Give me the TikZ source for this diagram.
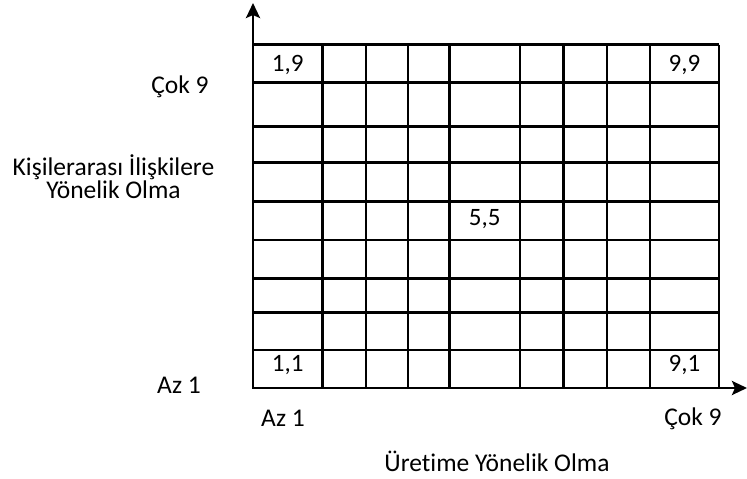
\documentclass[tikz,border=0pt]{standalone}
\usepackage{fontspec}
\setmainfont{Carlito}[Ligatures=NoCommon]
\usetikzlibrary{arrows.meta}
\tikzset{
  gridline/.style={line width=2.8pt},
  axes/.style={line width=2.8pt,line join=miter,
    {Stealth[length=15pt,width=14pt,inset=3pt]}-{Stealth[length=15pt,width=14pt,inset=3pt]}},
  celltext/.style={font=\fontsize{25}{27}\selectfont,inner sep=0pt,anchor=base},
  axistext/.style={font=\fontsize{25.5}{18.4}\selectfont,inner sep=0pt,anchor=base,align=center},
}

\begin{document}
\begin{tikzpicture}[x=1pt,y=-1pt]
\useasboundingbox (0,0) rectangle (747,479);

% corner of the axes and the two arrow ends
\coordinate (O) at (253,388);
\coordinate (T) at (253,3);
\coordinate (R) at (747,388);

% Draw the grid lines
\foreach \x in {322.5,366,408,449.5,520,563.5,607,650,719}
  \draw[gridline] (\x,44.5) -- (\x,388);
\foreach \y in {44.5,82.3,126.5,162.7,201.7,240,278.3,312.7,350}
  \draw[gridline] (253,\y) -- (719,\y);

% Draw the axes
\draw[axes] (T) -- (O) -- (R);

% cell labels
\node[celltext] (c19) at (287.7,71.5) {1,9};
\node[celltext] (c99) at (684.5,71.5) {9,9};
\node[celltext] (c55) at (484.7,225) {5,5};
\node[celltext] (c11) at (287.7,371.5) {1,1};
\node[celltext] (c91) at (684.5,371.5) {9,1};

% labels of the vertical axis
\node[axistext] (ycok) at (180,93) {Çok 9};
\node[axistext] (ytitle) at (113.5,198.3) {Kişilerarası İlişkilere\\Yönelik Olma};
\node[axistext] (yaz) at (179,393) {Az 1};

% labels of the horizontal axis
\node[axistext] (xaz) at (283,426.5) {Az 1};
\node[axistext] (xcok) at (693,425.5) {Çok 9};
\node[axistext] (xtitle) at (497,471.5) {Üretime Yönelik Olma};

\end{tikzpicture}
\end{document}
